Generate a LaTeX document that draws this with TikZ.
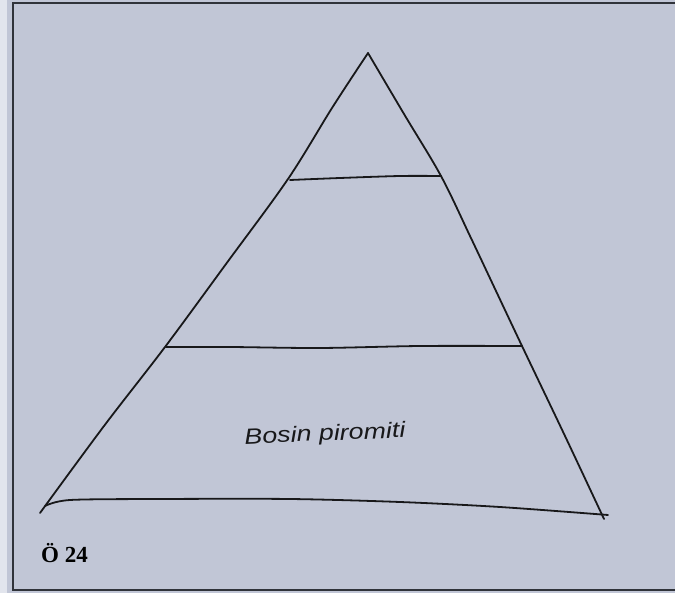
\documentclass[tikz,border=0pt]{standalone}
\usepackage{fontspec}
\setmainfont{Liberation Serif}
\newfontfamily\mano{Liberation Sans}
\usetikzlibrary{positioning}
\definecolor{papel}{RGB}{193,198,214}
\definecolor{franja}{RGB}{226,229,237}
\definecolor{tinta}{RGB}{24,24,26}
\definecolor{marco}{RGB}{48,51,58}

\begin{document}
\begin{tikzpicture}[
    x=1pt, y=-1pt,
    trazo/.style={draw=tinta, line width=1.8pt, line cap=round, line join=round},
    borde/.style={draw=marco, line width=2pt},
    letra/.style={font=\mano\itshape\fontsize{22}{22}\selectfont, text=tinta, inner sep=0pt, xscale=1.22},
    rotulo/.style={font=\bfseries\fontsize{23}{23}\selectfont, text=black, inner sep=0pt, anchor=base west}
]
\useasboundingbox (0,0) rectangle (675,593);

% Fondo
\fill[franja] (0,0) rectangle (7,593);
\fill[papel] (7,0) rectangle (675,593);
\draw[borde] (675,3) -- (13,3) -- (13,590) -- (675,590);

% Vertices
\coordinate (cima) at (368,53);
\coordinate (izq) at (40,513);
\coordinate (der) at (604,519);

% Lados
\draw[trazo] plot[smooth, tension=0.55] coordinates {(cima) (332,108) (288,179) (226,264) (165,347) (104,426) (izq)};
\draw[trazo] plot[smooth, tension=0.55] coordinates {(cima) (404,114) (441,176) (470,236) (496,291) (522,346) (565,436) (der)};

% Franjas
\draw[trazo] plot[smooth, tension=0.5] coordinates {(290,180) (340,178) (400,176) (441,176)};
\draw[trazo] plot[smooth, tension=0.5] coordinates {(166,347) (230,347) (320,348) (420,346) (522,346)};
\draw[trazo] plot[smooth, tension=0.5] coordinates {(45,506) (70,500) (160,499) (290,499) (400,502) (500,507) (608,515)};

% Textos
\node (titulo) [letra, rotate=3] at (325,435) {Bosin piromiti};
\node (numero) [rotulo] at (41,562) {Ö 24};

\end{tikzpicture}
\end{document}
